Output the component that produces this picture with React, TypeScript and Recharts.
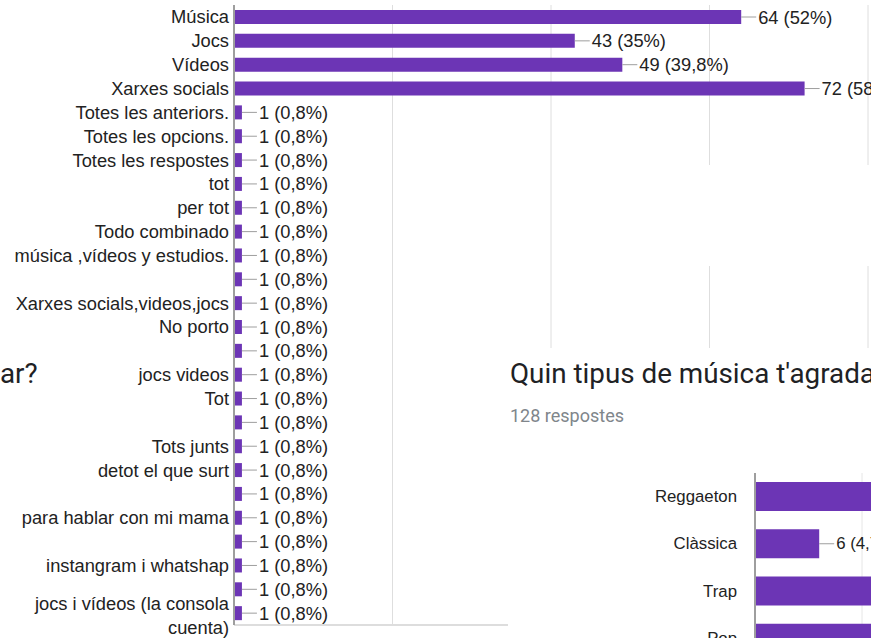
import React from 'react';
import { BarChart, Bar, XAxis, YAxis, CartesianGrid, LabelList } from 'recharts';

const categories = [
  'Música', 'Jocs', 'Vídeos', 'Xarxes socials', 'Totes les anteriors.', 'Totes les opcions.',
  'Totes les respostes', 'tot', 'per tot', 'Todo combinado', 'música ,vídeos y estudios.', '',
  'Xarxes socials,videos,jocs', 'No porto', '', 'jocs videos', 'Tot', '', 'Tots junts',
  'detot el que surt', '', 'para hablar con mi mama', '', 'instangram i whatshap', '',
  'jocs i vídeos (la consola cuenta)',
];
const values = [64, 43, 49, 72, 1, 1, 1, 1, 1, 1, 1, 1, 1, 1, 1, 1, 1, 1, 1, 1, 1, 1, 1, 1, 1, 1];
const TOTAL_MAIN = 123;

const musicCategories = ['Reggaeton', 'Clàssica', 'Trap', 'Pop'];
const musicValues = [59, 6, 47, 66];
const TOTAL_MUSIC = 128;

const majorTicks = [0, 20, 40, 60, 80];
const minorTicks = [0, 10, 30, 50, 70];
const musicTicks = [0, 10, 20, 30, 40, 50, 60, 70];

const BAR = '#6c35b5';
const TXT = '#222222';
const FONT = "Arial, 'Liberation Sans', sans-serif";

const fmtPct = (v: number, total: number) => {
  const p = Math.round((v / total) * 1000) / 10;
  return (Number.isInteger(p) ? String(p) : p.toFixed(1)).replace('.', ',');
};

const mainData = categories.map((c, i) => ({ id: 'c' + i, label: c, value: values[i] }));
const musicData = musicCategories.map((c, i) => ({ id: c, label: c, value: musicValues[i] }));

const EmptyTick = () => <g />;

const makeTick = (labels: string[], fontSize: number) => (props: any) => {
  const { x, y, index } = props;
  const label = labels[index] ?? '';
  if (label === 'jocs i vídeos (la consola cuenta)') {
    return (
      <text x={x} y={y} textAnchor="end" fontFamily={FONT} fontSize={fontSize} fill={TXT}>
        <tspan x={x} dy={-3}>jocs i vídeos (la consola</tspan>
        <tspan x={x} dy={24}>cuenta)</tspan>
      </text>
    );
  }
  return (
    <text x={x} y={y} textAnchor="end" dominantBaseline="central" fontFamily={FONT} fontSize={fontSize} fill={TXT}>
      {label}
    </text>
  );
};

const makeLabel = (total: number, fontSize: number) => (props: any) => {
  const vb = props.viewBox || {};
  const x = props.x ?? vb.x;
  const y = props.y ?? vb.y;
  const w = props.width ?? vb.width;
  const h = props.height ?? vb.height;
  const v = props.value;
  const cy = y + h / 2;
  const xe = x + w;
  return (
    <g>
      <line x1={xe} y1={cy} x2={xe + 15} y2={cy} stroke="#9e9e9e" strokeWidth={1} />
      <text x={xe + 17} y={cy} dominantBaseline="central" fontFamily={FONT} fontSize={fontSize} fill={TXT}>
        {`${v} (${fmtPct(v, total)}%)`}
      </text>
    </g>
  );
};

const MAIN_MARGIN = { top: 5, right: 3, bottom: 12, left: 0 };

export default function App() {
  return (
    <div style={{ position: 'absolute', left: 0, top: 0, width: 871, height: 638, overflow: 'hidden', background: '#fff' }}>
      {/* background chart: minor gridlines only */}
      <div style={{ position: 'absolute', left: 0, top: 0 }}>
        <BarChart width={871} height={638} data={mainData} layout="vertical" margin={MAIN_MARGIN}>
          <CartesianGrid horizontal={false} stroke="#ebebeb" syncWithTicks />
          <XAxis type="number" domain={[0, 80]} ticks={minorTicks} interval={0} tick={EmptyTick} tickLine={false} axisLine={false} height={1} />
          <YAxis type="category" dataKey="id" width={234} tick={false} tickLine={false} axisLine={false} />
        </BarChart>
      </div>
      <div style={{ position: 'absolute', left: 0, top: 0 }}>
        <BarChart width={871} height={638} data={mainData} layout="vertical" margin={MAIN_MARGIN} barSize={14}>
          <CartesianGrid horizontal={false} stroke="#dedede" syncWithTicks />
          <XAxis
            type="number"
            domain={[0, 80]}
            ticks={majorTicks}
            interval={0}
            tick={EmptyTick}
            tickLine={false}
            height={1}
            axisLine={{ stroke: '#dddddd', strokeWidth: 2 }}
          />
          <YAxis
            type="category"
            dataKey="id"
            width={234}
            tickLine={false}
            tickSize={0}
            tickMargin={5}
            interval={0}
            axisLine={{ stroke: '#9e9e9e', strokeWidth: 2 }}
            tick={makeTick(categories, 18.3)}
          />
          <Bar dataKey="value" fill={BAR} isAnimationActive={false}>
            <LabelList dataKey="value" content={makeLabel(TOTAL_MAIN, 18.3)} />
          </Bar>
        </BarChart>
      </div>

      <svg width={871} height={638} style={{ position: 'absolute', left: 0, top: 0 }}>
        <rect x={700} y={165} width={171} height={101} fill="#fff" />
        <rect x={508} y={348} width={363} height={290} fill="#fff" />
        <text x={0} y={383} fontFamily="Roboto, sans-serif" fontSize={27.8} fill="#202124">ar?</text>
        <text x={510} y={383} fontFamily="Roboto, sans-serif" fontSize={27.8} fill="#202124">Quin tipus de música t'agrada</text>
        <text x={510} y={422} fontFamily="Roboto, sans-serif" fontSize={18} fill="#80868b">128 respostes</text>
      </svg>

      <div style={{ position: 'absolute', left: 555, top: 473 }}>
        <BarChart
          width={949}
          height={190}
          data={musicData}
          layout="vertical"
          margin={{ top: 0, right: 0, bottom: 0, left: 0 }}
          barSize={29}
        >
          <CartesianGrid horizontal={false} stroke="#e6e6e6" syncWithTicks />
          <XAxis type="number" domain={[0, 70]} ticks={musicTicks} interval={0} tick={EmptyTick} tickLine={false} axisLine={false} height={1} />
          <YAxis
            type="category"
            dataKey="id"
            width={200}
            tickLine={false}
            tickSize={0}
            tickMargin={18}
            interval={0}
            axisLine={{ stroke: '#9e9e9e', strokeWidth: 2 }}
            tick={makeTick(musicCategories, 16.8)}
          />
          <Bar dataKey="value" fill={BAR} isAnimationActive={false}>
            <LabelList dataKey="value" content={makeLabel(TOTAL_MUSIC, 16.8)} />
          </Bar>
        </BarChart>
      </div>
    </div>
  );
}
